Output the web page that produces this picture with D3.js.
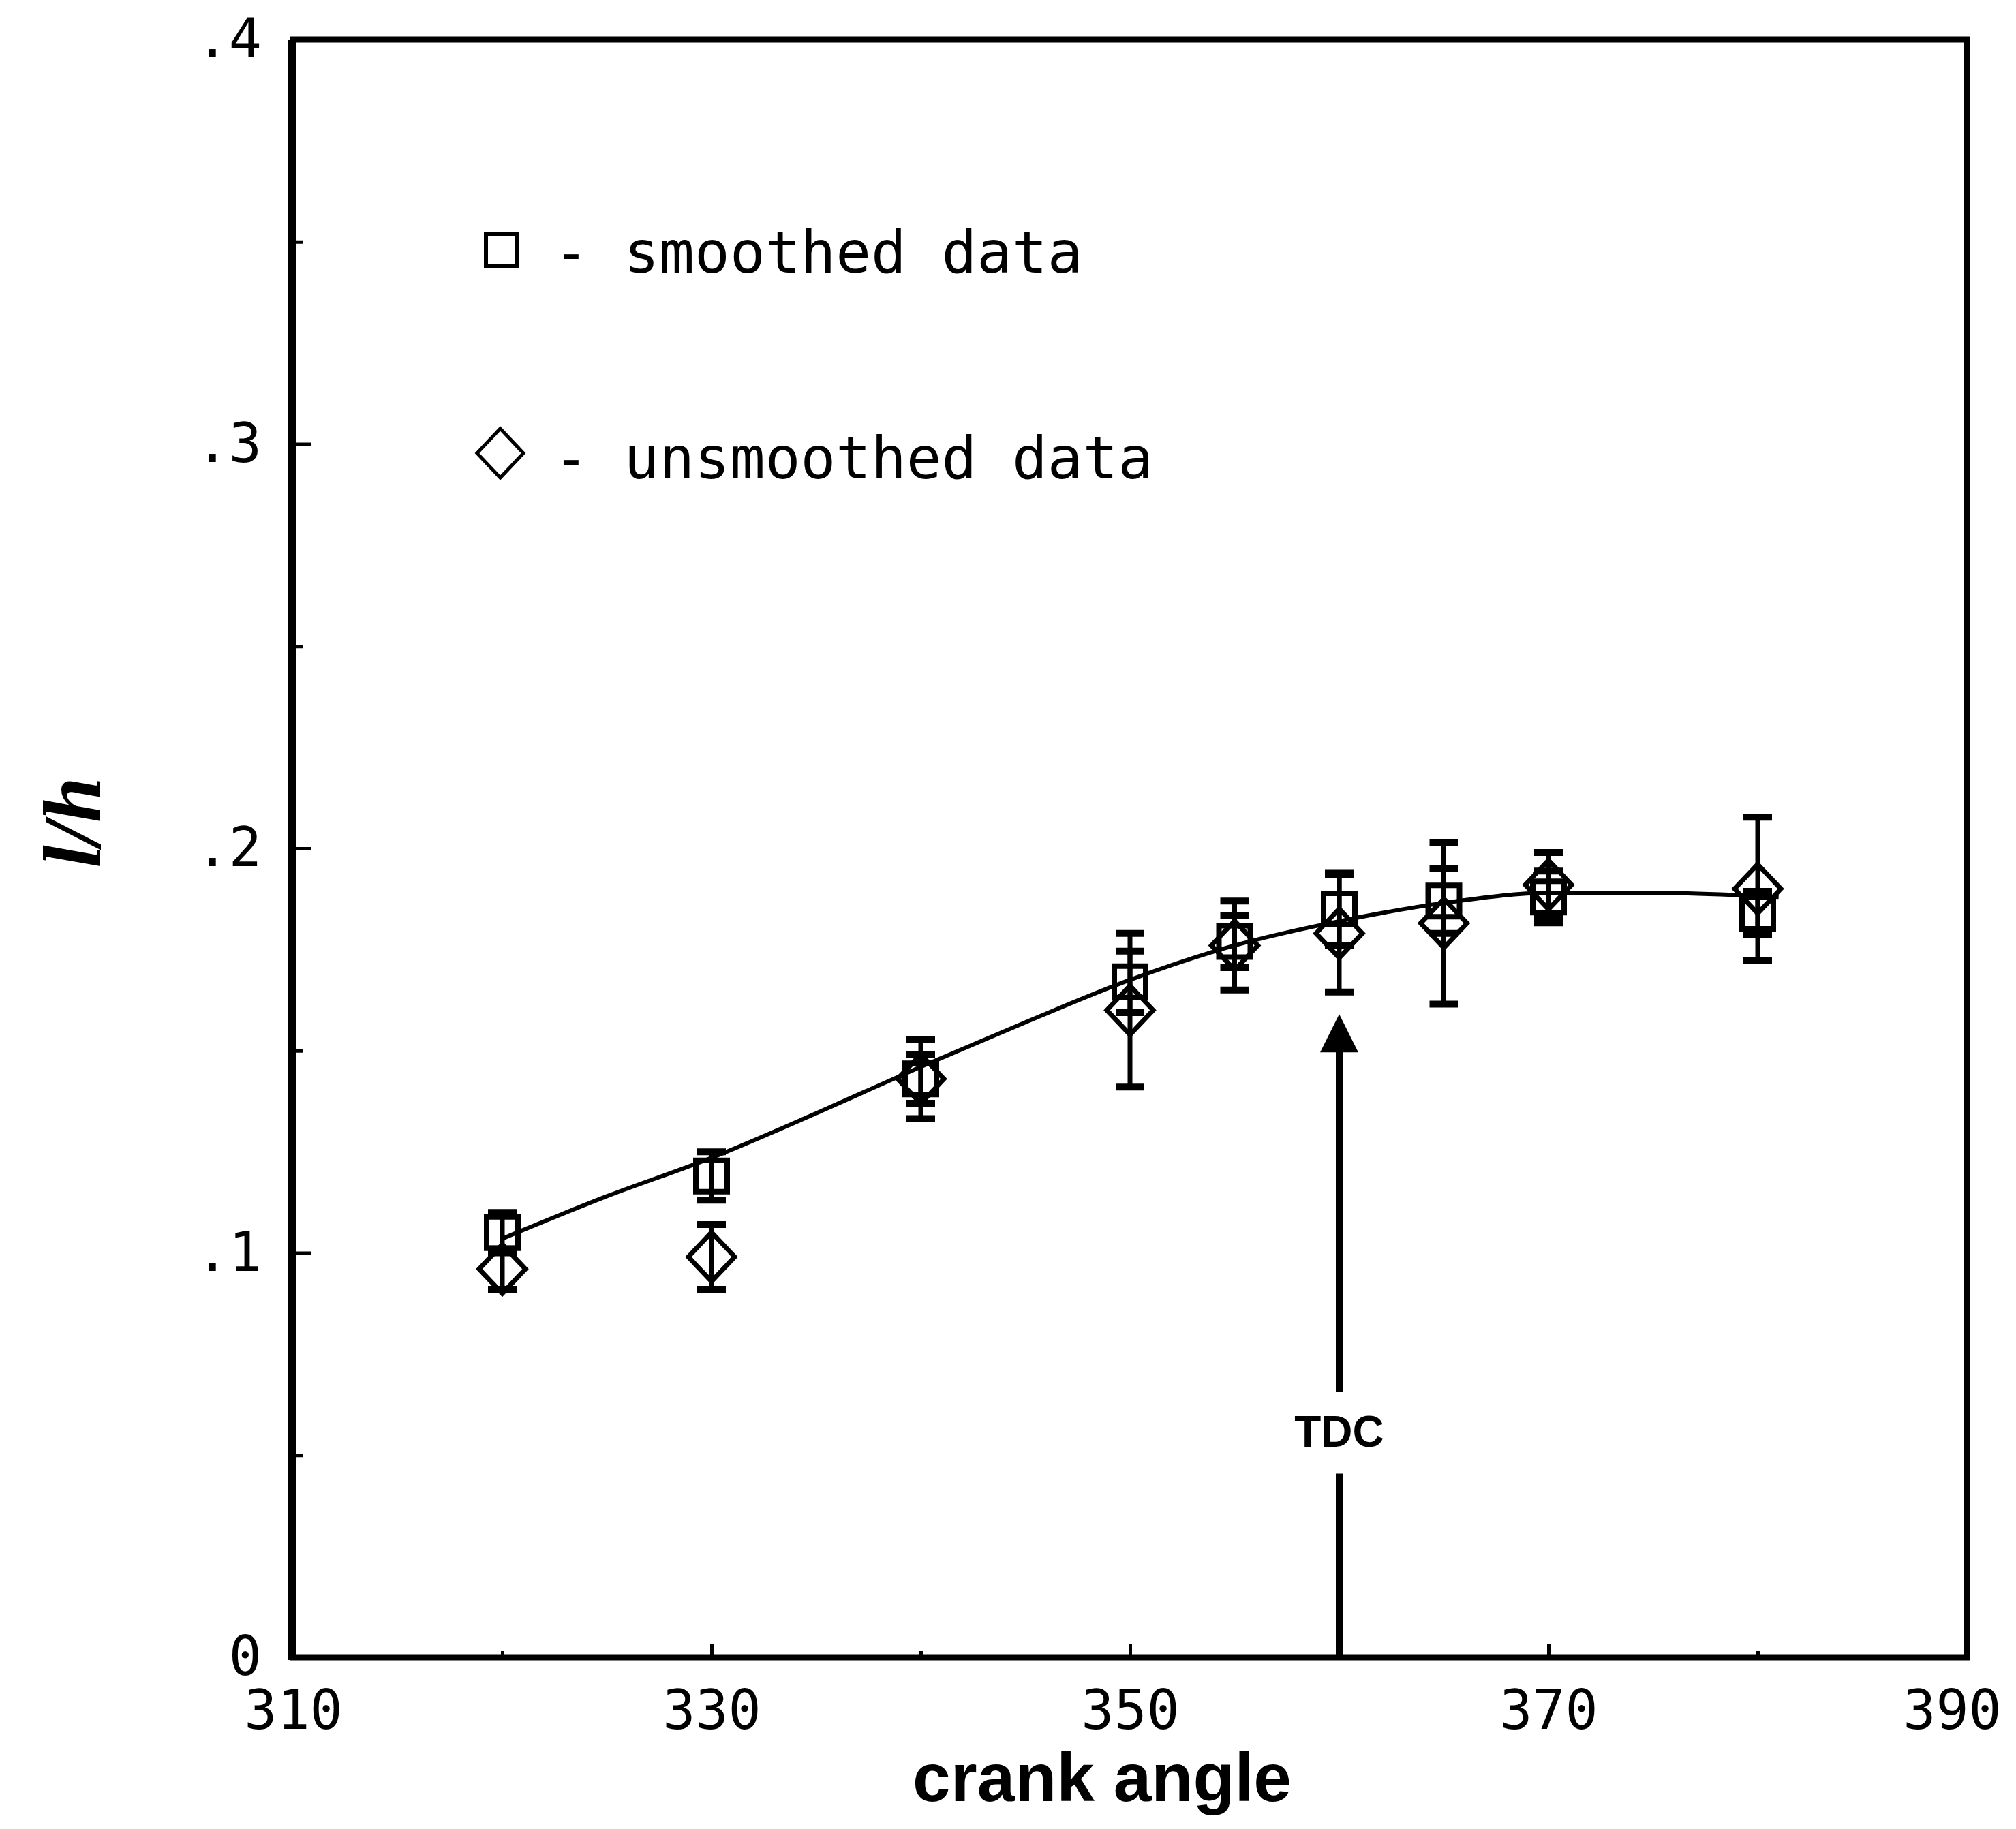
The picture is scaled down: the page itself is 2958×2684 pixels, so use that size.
<!DOCTYPE html>
<html>
<head>
<meta charset="utf-8">
<script src="https://cdn.jsdelivr.net/npm/d3@7"></script>
<style>
  html, body { margin: 0; padding: 0; background: #fff; }
  svg { display: block; }
  .mono { font-family: "DejaVu Sans Mono", "Liberation Mono", monospace; }
</style>
</head>
<body>
<div id="chart"></div>
<script>
// crank angle of each measurement
const angles = [320, 330, 340, 350, 355, 360, 365, 370, 380];
// smoothed data (squares) and its error half-length
const smoothed = [0.105, 0.119, 0.143, 0.167, 0.177, 0.185, 0.187, 0.188, 0.184];
const smoothedErr = [0.005, 0.006, 0.006, 0.0076, 0.0065, 0.009, 0.008, 0.0064, 0.0054];
// unsmoothed data (diamonds) and its error half-length
const unsmoothed = [0.096, 0.099, 0.143, 0.160, 0.176, 0.179, 0.1815, 0.191, 0.190];
const unsmoothedErr = [0.005, 0.008, 0.0098, 0.019, 0.011, 0.0145, 0.020, 0.008, 0.0177];
// fitted curve
const fitAngles = [320, 325, 330, 335, 340, 345, 350, 355, 360, 365, 370, 375, 381];
const fitValues = [0.1035, 0.114, 0.1235, 0.1345, 0.146, 0.157, 0.1675, 0.176, 0.182, 0.1865, 0.189, 0.189, 0.188];

const xTicks = [310, 330, 350, 370, 390];
const xMinorTicks = [320, 340, 360, 380];
const yTicks = [0, 0.1, 0.2, 0.3, 0.4];
const yMinorTicks = [0.05, 0.15, 0.25, 0.35];

const tdcAngle = 360;
const tdcTip = 0.159;
const tdcLabelValue = 0.052;

const legendItems = ['- smoothed data', '- unsmoothed data'];

const width = 2958, height = 2684;
const margin = { top: 58, right: 72, bottom: 252, left: 430 };

const x = d3.scaleLinear().domain([310, 390]).range([margin.left, width - margin.right]);
const y = d3.scaleLinear().domain([0, 0.4]).range([height - margin.bottom, margin.top]);

const svg = d3.select('#chart')
  .append('svg')
  .attr('width', width)
  .attr('height', height)
  .attr('viewBox', `0 0 ${width} ${height}`);

svg.append('rect').attr('width', width).attr('height', height).attr('fill', '#fff');

let yFormat = d => d === 0 ? '0' : d3.format('.1f')(d).replace(/^0/, '');

// axes: inward ticks, mono labels
svg.append('g')
  .attr('transform', `translate(${x(310)},0)`)
  .call(d3.axisLeft(y).tickValues(yTicks).tickFormat(yFormat)
    .tickSizeInner(-27).tickSizeOuter(0).tickPadding(46));
svg.append('g')
  .attr('transform', `translate(${x(310)},0)`)
  .call(d3.axisLeft(y).tickValues(yMinorTicks).tickFormat('')
    .tickSizeInner(-14).tickSizeOuter(0));

let xAxis = svg.append('g')
  .attr('transform', `translate(0,${y(0)})`)
  .call(d3.axisBottom(x).tickValues(xTicks).tickFormat(d3.format('d'))
    .tickSizeInner(-20).tickSizeOuter(0).tickPadding(48));
svg.append('g')
  .attr('transform', `translate(0,${y(0)})`)
  .call(d3.axisBottom(x).tickValues(xMinorTicks).tickFormat('')
    .tickSizeInner(-9).tickSizeOuter(0));

svg.selectAll('.domain').remove();
svg.selectAll('.tick line').attr('stroke', '#000').attr('stroke-width', 5);
svg.selectAll('.tick text')
  .attr('class', 'mono')
  .attr('font-size', 80)
  .attr('fill', '#000');
// last label sits a little left of its tick in the original
xAxis.selectAll('.tick text').filter(d => d === 390).attr('dx', -22);

// frame
svg.append('rect')
  .attr('x', x(310)).attr('y', y(0.4))
  .attr('width', x(390) - x(310)).attr('height', y(0) - y(0.4))
  .attr('fill', 'none').attr('stroke', '#000').attr('stroke-width', 9);
svg.append('line')
  .attr('x1', x(310) - 2).attr('x2', x(310) - 2)
  .attr('y1', y(0.4)).attr('y2', y(0) + 4)
  .attr('stroke', '#000').attr('stroke-width', 12);

// fitted curve
let fit = fitAngles.map((a, i) => [a, fitValues[i]]);
svg.append('path')
  .datum(fit)
  .attr('fill', 'none')
  .attr('stroke', '#000')
  .attr('stroke-width', 6)
  .attr('d', d3.line().x(d => x(d[0])).y(d => y(d[1])).curve(d3.curveMonotoneX));

let series = [
  { values: smoothed, errs: smoothedErr, symbol: 'square' },
  { values: unsmoothed, errs: unsmoothedErr, symbol: 'diamond' }
];

let squarePath = s => `M${-s},${-s}H${s}V${s}H${-s}Z`;
let diamondPath = (w, h) => `M0,${-h}L${w},0L0,${h}L${-w},0Z`;
let markerPath = sym => sym === 'square' ? squarePath(23) : diamondPath(34, 36);

series.forEach(s => {
  let pts = angles.map((a, i) => ({ a, v: s.values[i], e: s.errs[i] }));
  let g = svg.append('g').attr('stroke', '#000').attr('fill', 'none');

  g.selectAll('line.err')
    .data(pts).enter().append('line')
    .attr('x1', d => x(d.a)).attr('x2', d => x(d.a))
    .attr('y1', d => y(d.v - d.e)).attr('y2', d => y(d.v + d.e))
    .attr('stroke-width', 7);

  [-1, 1].forEach(k => {
    g.selectAll(null)
      .data(pts).enter().append('line')
      .attr('x1', d => x(d.a) - 21).attr('x2', d => x(d.a) + 21)
      .attr('y1', d => y(d.v + k * d.e)).attr('y2', d => y(d.v + k * d.e))
      .attr('stroke-width', 10);
  });

  g.selectAll('path')
    .data(pts).enter().append('path')
    .attr('transform', d => `translate(${x(d.a)},${y(d.v)})`)
    .attr('d', markerPath(s.symbol))
    .attr('stroke-width', s.symbol === 'square' ? 8 : 7);
});

// legend
let legend = svg.append('g');
[['square', 736, 367], ['diamond', 734, 665]].forEach(([sym, lx, ly], i) => {
  legend.append('path')
    .attr('transform', `translate(${lx},${ly})`)
    .attr('d', markerPath(sym))
    .attr('fill', 'none').attr('stroke', '#000')
    .attr('stroke-width', sym === 'square' ? 6 : 5);
  legend.append('text')
    .attr('class', 'mono')
    .attr('x', 812).attr('y', i === 0 ? 400 : 702)
    .attr('font-size', 86)
    .text(legendItems[i]);
});

// TDC arrow
let tx = x(tdcAngle);
let labelY = y(tdcLabelValue);
let ann = svg.append('g');
ann.append('line')
  .attr('x1', tx).attr('x2', tx)
  .attr('y1', labelY - 81).attr('y2', y(tdcTip) + 50)
  .attr('stroke', '#000').attr('stroke-width', 10);
ann.append('line')
  .attr('x1', tx).attr('x2', tx)
  .attr('y1', labelY + 39).attr('y2', y(0))
  .attr('stroke', '#000').attr('stroke-width', 10);
ann.append('path')
  .attr('d', `M${tx},${y(tdcTip)}L${tx + 28},${y(tdcTip) + 56}L${tx - 28},${y(tdcTip) + 56}Z`)
  .attr('fill', '#000');
ann.append('text')
  .attr('x', tx).attr('y', labelY)
  .attr('text-anchor', 'middle')
  .attr('font-family', '"Liberation Sans", Arial, sans-serif')
  .attr('font-weight', 'bold')
  .attr('font-size', 64)
  .text('TDC');

// axis titles
svg.append('text')
  .attr('x', 1617).attr('y', 2643)
  .attr('text-anchor', 'middle')
  .attr('font-family', '"Liberation Sans", Arial, sans-serif')
  .attr('font-weight', 'bold')
  .attr('font-size', 100)
  .text('crank angle');

svg.append('text')
  .attr('transform', 'translate(147,1207) rotate(-90)')
  .attr('text-anchor', 'middle')
  .attr('font-family', '"Liberation Serif", "Times New Roman", serif')
  .attr('font-weight', 'bold')
  .attr('font-style', 'italic')
  .attr('font-size', 120)
  .text('l/h');
</script>
</body>
</html>
